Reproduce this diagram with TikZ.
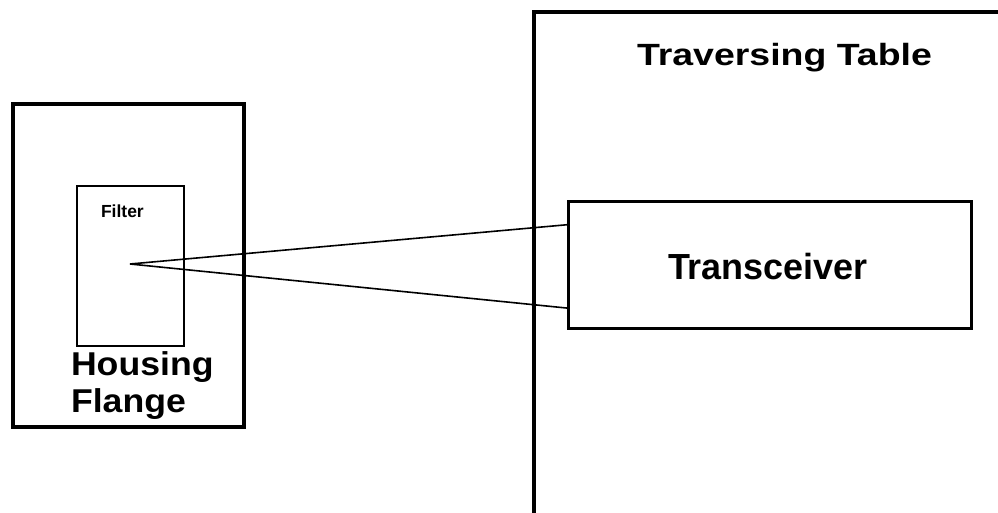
\documentclass[tikz,border=0pt]{standalone}
\usepackage{fontspec}
\setmainfont{Liberation Sans}
\usepackage{graphicx}
\usetikzlibrary{calc}
\begin{document}
\begin{tikzpicture}[x=1pt,y=-1pt,
  boxline/.style={draw=black,line width=3.2pt},
  thinbox/.style={draw=black,line width=2pt},
  conn/.style={draw=black,line width=1.6pt},
  lbl/.style={anchor=base west,inner sep=0pt,outer sep=0pt,font=\bfseries}]
\useasboundingbox (0,0) rectangle (998,513);
% boxes
\draw[boxline] (13,104) rectangle (244,427);
\node[thinbox,inner sep=0pt,minimum width=107pt,minimum height=160pt,anchor=north west] (filter) at (76,185) {};
\node[boxline,inner sep=0pt,minimum width=403pt,minimum height=127pt,anchor=north west] (trans) at (567,200) {};
\draw[boxline] (534,515) -- (534,12) -- (1000,12);
% labels
\node[lbl] (tt) at (637,66) {\scalebox{1.22}[1]{\fontsize{30.7}{31}\selectfont\bfseries Traversing Table}};
\node[lbl] (trl) at (668,279) {\scalebox{0.99}[1]{\fontsize{36.3}{37}\selectfont\bfseries Transceiver}};
\node[lbl] (hous) at (71,375) {\scalebox{1.08}[1]{\fontsize{33}{34}\selectfont\bfseries Housing}};
\node[lbl] (flan) at (71,412) {\scalebox{1.08}[1]{\fontsize{33}{34}\selectfont\bfseries Flange}};
\node[lbl] (filt) at (101,217) {\fontsize{17.5}{18}\selectfont\bfseries Filter};
% connectors
\coordinate (apex) at (130,264);
\coordinate (tup) at ($(trans.north west)!0.19!(trans.south west)$);
\coordinate (tlo) at ($(trans.north west)!0.83!(trans.south west)$);
\draw[conn] (tup) -- (apex) -- (tlo);
\end{tikzpicture}
\end{document}
